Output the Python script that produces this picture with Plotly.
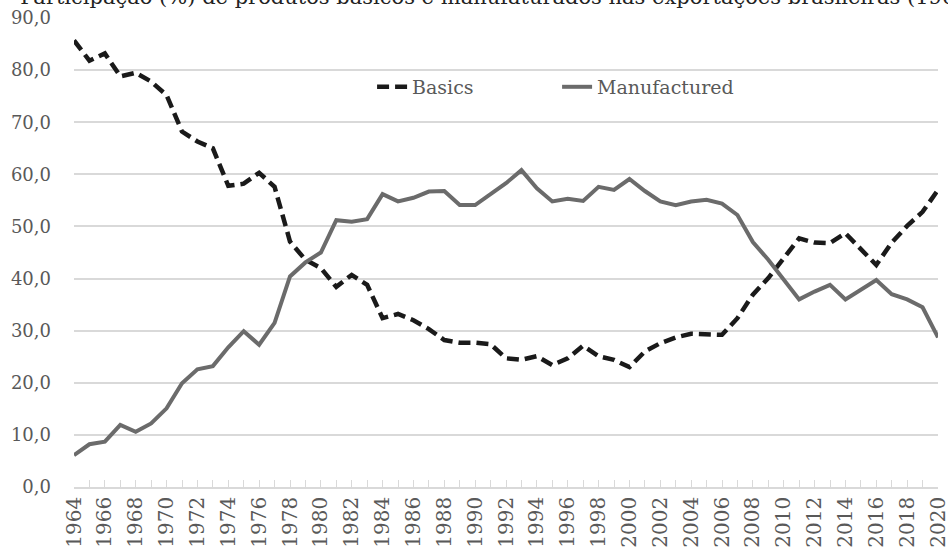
import plotly.graph_objects as go

years = list(range(1964, 2021))

basics = [85.7, 81.8, 83.2, 78.8, 79.5, 77.8, 75.2, 68.2, 66.3, 65.0,
          57.8, 58.2, 60.3, 57.6, 47.1, 43.6, 42.0, 38.4, 40.7, 38.8,
          32.4, 33.2, 32.0, 30.3, 28.2, 27.7, 27.7, 27.4, 24.7, 24.4,
          25.1, 23.4, 24.7, 27.1, 25.1, 24.4, 23.0, 26.0, 27.6, 28.7,
          29.4, 29.2, 29.2, 32.4, 36.9, 40.1, 43.8, 47.7, 46.9, 46.8,
          48.7, 45.6, 42.6, 46.9, 50.1, 52.8, 57.0]

manufactured = [6.1, 8.2, 8.7, 11.9, 10.6, 12.2, 15.1, 19.9, 22.6, 23.2,
                26.8, 29.9, 27.3, 31.5, 40.4, 43.1, 45.0, 51.2, 50.9, 51.4,
                56.2, 54.8, 55.5, 56.7, 56.8, 54.1, 54.1, 56.2, 58.3, 60.8,
                57.3, 54.8, 55.3, 54.9, 57.6, 57.0, 59.1, 56.8, 54.8, 54.1,
                54.8, 55.1, 54.4, 52.2, 47.0, 43.6, 39.7, 36.0, 37.5, 38.8,
                36.0, 37.8, 39.7, 37.0, 36.0, 34.5, 28.7]

series_names = ["Basics", "Manufactured"]
title_text = "– Participação (%) de produtos básicos e manufaturados nas exportações brasileiras (1964-2020)"

FONT = "DejaVu Serif"
TXT = "#595959"
GRID = "#d9d9d9"

fig = go.Figure()
fig.add_trace(go.Scatter(
    x=years, y=basics, mode="lines", name=series_names[0],
    line=dict(color="#1a1a1a", width=4.5, dash="12px,6px"),
))
fig.add_trace(go.Scatter(
    x=years, y=manufactured, mode="lines", name=series_names[1],
    line=dict(color="#6b6b6b", width=4),
))

fig.update_layout(
    width=948, height=556,
    margin=dict(l=74, r=10, t=18, b=69, autoexpand=False),
    paper_bgcolor="white", plot_bgcolor="white",
    separators=",.",
    font=dict(family=FONT, color=TXT, size=17),
    showlegend=True,
    legend=dict(
        orientation="h", x=0.345, y=0.853, xanchor="left", yanchor="middle",
        font=dict(family=FONT, size=19, color=TXT),
        bgcolor="rgba(255,255,255,0)", entrywidth=140,
    ),
    annotations=[dict(
        text=title_text, xref="paper", yref="paper",
        x=-0.085, y=1.045, xanchor="left", yanchor="middle",
        showarrow=False, font=dict(family=FONT, size=21, color="#222222"),
    )],
)

fig.update_xaxes(
    range=[1964, 2020], tickmode="linear", tick0=1964, dtick=2,
    tickangle=-90, showgrid=False,
    showline=True, linecolor=GRID, linewidth=1.5,
    ticks="inside", ticklen=7, tickcolor=GRID, tickwidth=1,
    minor=dict(dtick=1, tick0=1964, ticks="inside", ticklen=7, tickcolor=GRID, tickwidth=1),
    tickfont=dict(family=FONT, size=20, color=TXT),
    ticklabelstandoff=0, ticklabeloverflow="allow",
    zeroline=False, automargin=False,
)
fig.update_yaxes(
    range=[0, 90], tickmode="linear", tick0=0, dtick=10, tickformat=".1f",
    showgrid=True, gridcolor=GRID, gridwidth=1.5,
    zeroline=False, showline=False,
    tickfont=dict(family=FONT, size=18, color=TXT),
    ticklabelstandoff=22, automargin=False,
)

fig.write_html(
    "out.html",
    config={"displayModeBar": False},
    post_script="document.body.style.margin='0';document.body.style.padding='0';",
)
